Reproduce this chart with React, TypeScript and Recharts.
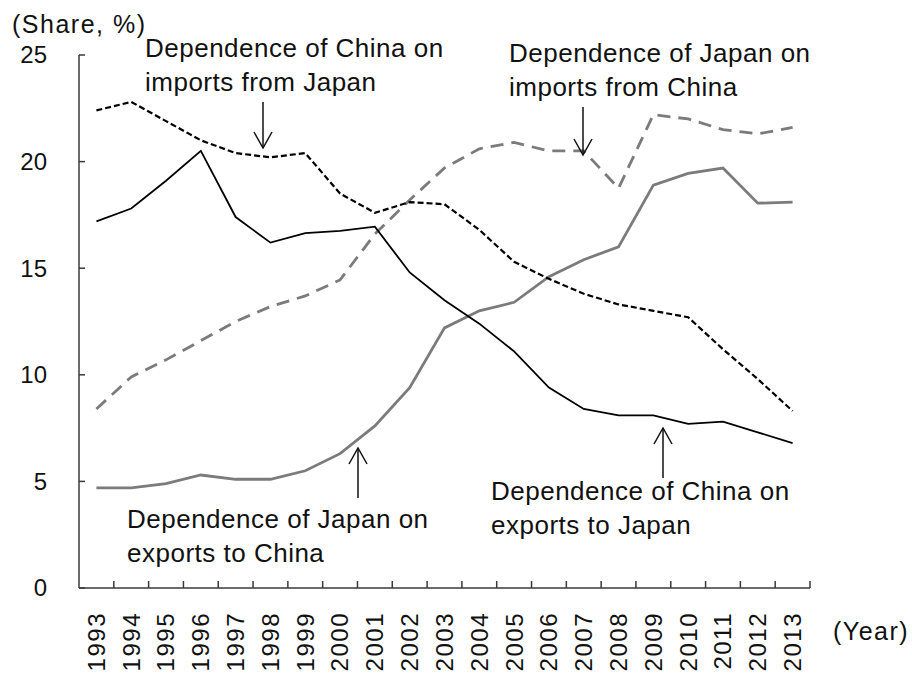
import React from "react";
import { LineChart, Line, XAxis, YAxis } from "recharts";

const years = [
  "1993", "1994", "1995", "1996", "1997", "1998", "1999", "2000", "2001", "2002", "2003",
  "2004", "2005", "2006", "2007", "2008", "2009", "2010", "2011", "2012", "2013",
];

// Dependence of China on imports from Japan (black, short dashes)
const chinaImportsFromJapan = [
  22.4, 22.8, 21.9, 21.0, 20.4, 20.2, 20.4, 18.5, 17.6, 18.1, 18.0,
  16.8, 15.3, 14.5, 13.8, 13.3, 13.0, 12.7, 11.2, 9.8, 8.3,
];
// Dependence of China on exports to Japan (black, solid)
const chinaExportsToJapan = [
  17.2, 17.8, 19.1, 20.5, 17.4, 16.2, 16.65, 16.75, 16.95, 14.8, 13.5,
  12.4, 11.1, 9.4, 8.4, 8.1, 8.1, 7.7, 7.8, 7.3, 6.8,
];
// Dependence of Japan on imports from China (gray, long dashes)
const japanImportsFromChina = [
  8.4, 9.9, 10.7, 11.6, 12.5, 13.2, 13.7, 14.45, 16.6, 18.2, 19.7,
  20.6, 20.9, 20.5, 20.5, 18.75, 22.2, 22.0, 21.5, 21.3, 21.6,
];
// Dependence of Japan on exports to China (gray, solid)
const japanExportsToChina = [
  4.7, 4.7, 4.9, 5.3, 5.1, 5.1, 5.5, 6.3, 7.6, 9.4, 12.2,
  13.0, 13.4, 14.6, 15.4, 16.0, 18.9, 19.45, 19.7, 18.05, 18.1,
];

const yTicks = [0, 5, 10, 15, 20, 25];

const data = years.map((year, i) => ({
  year,
  chinaImp: chinaImportsFromJapan[i],
  chinaExp: chinaExportsToJapan[i],
  japanImp: japanImportsFromChina[i],
  japanExp: japanExportsToChina[i],
}));

const W = 912;
const H = 673;
const MARGIN = { top: 55, right: 102, bottom: 0, left: 0 };
const Y_AXIS_W = 79;
// half of one year's band, so points sit between the tick marks like the original
const HALF_BAND = (W - MARGIN.right - MARGIN.left - Y_AXIS_W) / years.length / 2;

const FONT = '"Liberation Sans", Arial, sans-serif';
const AXIS = "#3a3a3a";
const GRAY = "#7b7b7b";

const YTick = (props: any) => {
  const { x, y, payload } = props;
  return (
    <g>
      <line x1={x + 32} x2={x + 38} y1={y} y2={y} stroke={AXIS} strokeWidth={1.5} />
      <text x={x} y={y} dy="0.35em" textAnchor="end" fontSize={24} fontFamily={FONT} fill="#111">
        {payload.value}
      </text>
    </g>
  );
};

const XTick = (props: any) => {
  const { x, y, payload } = props;
  const ty = y + 24;
  return (
    <g>
      <line x1={x + HALF_BAND} x2={x + HALF_BAND} y1={y} y2={y - 7} stroke={AXIS} strokeWidth={1.5} />
      <text
        x={x}
        y={ty}
        dy="0.35em"
        textAnchor="end"
        transform={`rotate(-90 ${x} ${ty})`}
        fontSize={24}
        letterSpacing={1.5}
        fontFamily={FONT}
        fill="#111"
      >
        {payload.value}
      </text>
    </g>
  );
};

const textStyle: React.CSSProperties = {
  position: "absolute",
  fontFamily: FONT,
  fontSize: 26,
  lineHeight: "34px",
  letterSpacing: 0.5,
  color: "#111",
  whiteSpace: "nowrap",
};

function Arrow({ x, from, to }: { x: number; from: number; to: number }) {
  const dir = to > from ? 1 : -1;
  return (
    <g stroke="#111" strokeWidth={1.5} fill="none">
      <line x1={x} x2={x} y1={from} y2={to} />
      <polyline points={`${x - 9},${to - dir * 16} ${x},${to} ${x + 9},${to - dir * 16}`} />
    </g>
  );
}

export default function App() {
  return (
    <div style={{ position: "absolute", left: 0, top: 0, width: W, height: H, background: "#fff" }}>
      <LineChart width={W} height={H} data={data} margin={MARGIN}>
        <XAxis
          dataKey="year"
          height={85}
          interval={0}
          padding={{ left: HALF_BAND, right: HALF_BAND }}
          tickLine={false}
          tickSize={0}
          tickMargin={0}
          axisLine={{ stroke: AXIS, strokeWidth: 1.5 }}
          tick={<XTick />}
        />
        <YAxis
          width={Y_AXIS_W}
          domain={[0, 25]}
          ticks={yTicks}
          interval={0}
          tickLine={false}
          tickSize={0}
          tickMargin={32}
          axisLine={{ stroke: AXIS, strokeWidth: 1.5 }}
          tick={<YTick />}
        />
        <Line
          dataKey="japanImp"
          stroke={GRAY}
          strokeWidth={2.8}
          strokeDasharray="13 8"
          dot={false}
          isAnimationActive={false}
        />
        <Line dataKey="japanExp" stroke={GRAY} strokeWidth={2.8} dot={false} isAnimationActive={false} />
        <Line
          dataKey="chinaImp"
          stroke="#000"
          strokeWidth={2.2}
          strokeDasharray="6 3"
          dot={false}
          isAnimationActive={false}
        />
        <Line dataKey="chinaExp" stroke="#000" strokeWidth={1.8} dot={false} isAnimationActive={false} />
      </LineChart>

      <div style={{ ...textStyle, fontSize: 25, letterSpacing: 1.5, lineHeight: "30px", left: 12, top: 9 }}>
        (Share, %)
      </div>
      <div style={{ ...textStyle, fontSize: 25, letterSpacing: 1.5, lineHeight: "30px", left: 833, top: 616 }}>
        (Year)
      </div>

      <div style={{ ...textStyle, left: 145, top: 31 }}>
        Dependence of China on
        <br />
        imports from Japan
      </div>
      <div style={{ ...textStyle, left: 509, top: 36 }}>
        Dependence of Japan on
        <br />
        imports from China
      </div>
      <div style={{ ...textStyle, left: 127, top: 502 }}>
        Dependence of Japan on
        <br />
        exports to China
      </div>
      <div style={{ ...textStyle, left: 491, top: 474 }}>
        Dependence of China on
        <br />
        exports to Japan
      </div>

      <svg width={W} height={H} style={{ position: "absolute", left: 0, top: 0, pointerEvents: "none" }}>
        <Arrow x={263} from={102} to={148} />
        <Arrow x={583} from={107} to={155} />
        <Arrow x={358} from={498} to={448} />
        <Arrow x={663} from={478} to={428} />
      </svg>
    </div>
  );
}
